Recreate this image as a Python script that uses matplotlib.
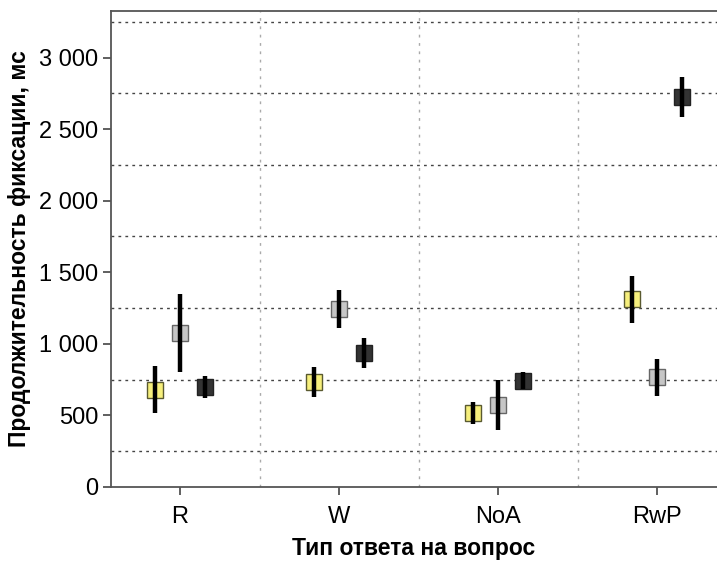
import matplotlib.pyplot as plt
import numpy as np
from matplotlib.ticker import FuncFormatter, FixedLocator

plt.rcParams['font.family'] = ['Liberation Sans', 'DejaVu Sans']

# answer types
categories = ['R', 'W', 'NoA', 'RwP']

# three series: mean, lower and upper bounds of the error bar
yellow_mean = [680, 735, 519, 1311]
yellow_low = [515, 630, 440, 1147]
yellow_high = [845, 840, 596, 1473]

gray_mean = [1075, 1241, 573, 770]
gray_low = [800, 1108, 398, 635]
gray_high = [1345, 1376, 747, 892]

dark_mean = [700, 933, 740, 2726]
dark_low = [620, 829, 682, 2586]
dark_high = [775, 1038, 801, 2861]

fig = plt.figure(figsize=(7.17, 5.63), dpi=100)
ax = fig.add_axes([0.1548, 0.135, 0.8452, 0.8455])

x = np.arange(len(categories))
series = [
    (yellow_mean, yellow_low, yellow_high, -0.16, '#f6ef7c', '#5a5a30'),
    (gray_mean, gray_low, gray_high, 0.0, '#c6c6c6', '#666666'),
    (dark_mean, dark_low, dark_high, 0.16, '#333333', '#222222'),
]
for mean, low, high, off, fc, ec in series:
    m = np.array(mean)
    xs = x + off
    ax.plot(xs, m, 's', ms=11.5, mfc=fc, mec=ec, mew=1.0, ls='none', zorder=3)
    ax.vlines(xs, low, high, colors='black', lw=3.2, zorder=4)

ax.set_xlim(-0.434, 3.377)
ax.set_ylim(0, 3325)

# dotted grid
for yv in np.arange(250, 3300, 500):
    ax.axhline(yv, color='#444444', lw=1.0, ls=(0, (2, 3)), zorder=1)
for xv in [0.5, 1.5, 2.5]:
    ax.axvline(xv, color='#aaaaaa', lw=1.0, ls=(0, (2, 4)), zorder=1)

ax.set_xticks(x)
ax.set_xticklabels(categories)
ax.yaxis.set_major_locator(FixedLocator(np.arange(0, 3001, 500)))
ax.yaxis.set_major_formatter(FuncFormatter(lambda v, p: '{:,}'.format(int(v)).replace(',', ' ')))
ax.tick_params(axis='both', labelsize=17, length=6, width=1.2, color='#444444', pad=3)
ax.tick_params(axis='x', pad=8)

for side in ['left', 'bottom', 'top']:
    ax.spines[side].set_color('#555555')
    ax.spines[side].set_linewidth(1.3)
ax.spines['right'].set_visible(False)

ax.set_xlabel('Тип ответа на вопрос', fontsize=16.5, fontweight='bold', labelpad=6)
ax.set_ylabel('Продолжительность фиксации, мс', fontsize=16.5, fontweight='bold', labelpad=6)

fig.savefig('out.png', dpi=100)
